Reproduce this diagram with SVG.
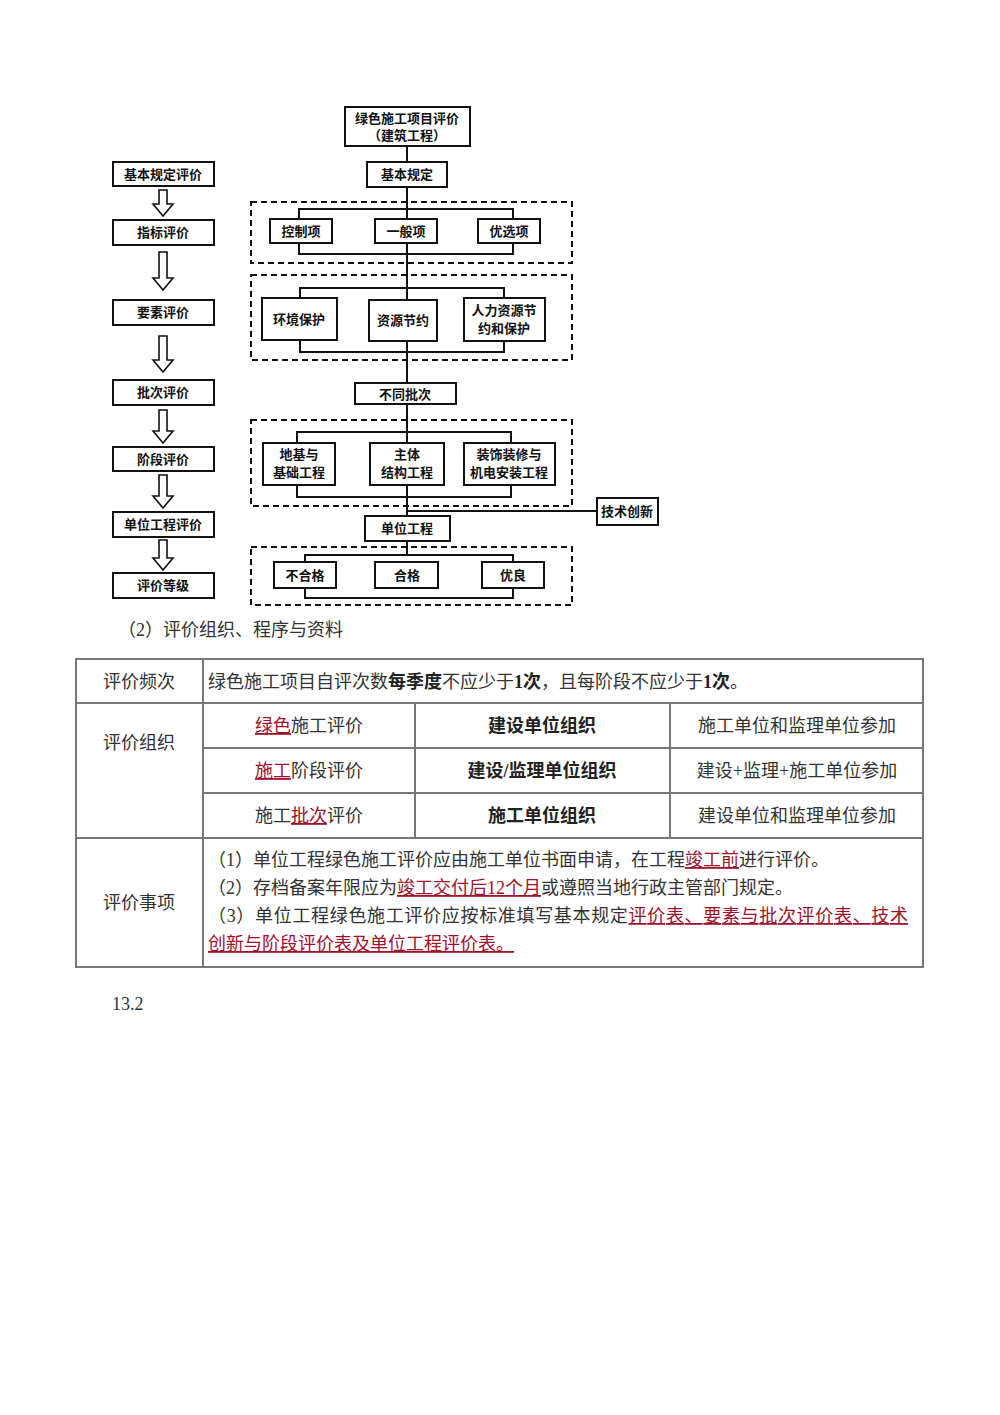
<svg xmlns="http://www.w3.org/2000/svg" width="1000" height="1415" viewBox="0 0 1000 1415">
<defs><style>
.b{fill:#fff;stroke:#111;stroke-width:2}
.d{fill:none;stroke:#111;stroke-width:2;stroke-dasharray:6,4}
.l{fill:none;stroke:#111;stroke-width:2}
.t{font-family:"Noto Sans CJK SC",sans-serif;font-weight:bold;font-size:13px;fill:#111;text-anchor:middle}
.a{fill:#fff;stroke:#111;stroke-width:1.6}
.g{stroke:#777;stroke-width:2;fill:none}
.s{font-family:"Liberation Serif","Noto Sans CJK SC",serif;font-size:18px;fill:#333}
.m{text-anchor:middle}
.bd{font-weight:bold;fill:#222}
.r{fill:#a0102a;text-decoration:underline}
</style></defs>
<rect width="1000" height="1415" fill="#fff"/>
<g id="connectors">
<path class="l" d="M407 146V555M299 219V209H513V219M299 243V254H513V243M300 298V288H504V298M300 340V352H504V341M297 443V432H511V443M297 485V497H511V485M305 562V555H513V562M305 588V598H513V588M407 511H597"/>
<path class="a" d="M159 190h8v14h6l-10 12-10-12h6z"/>
<path class="a" d="M159 252h8v26h6l-10 12-10-12h6z"/>
<path class="a" d="M159 336h8v24h6l-10 12-10-12h6z"/>
<path class="a" d="M159 410h8v21h6l-10 12-10-12h6z"/>
<path class="a" d="M159 475h8v21h6l-10 12-10-12h6z"/>
<path class="a" d="M159 540h8v18h6l-10 12-10-12h6z"/>
</g>
<g id="groups">
<rect class="d" x="251" y="202" width="321" height="61"/>
<rect class="d" x="251" y="275" width="321" height="85"/>
<rect class="d" x="251" y="420" width="321" height="86"/>
<rect class="d" x="251" y="547" width="321" height="58"/>
</g>
<g id="left">
<g id="n_l1"><rect class="b" x="113" y="162" width="101" height="24"/><text class="t" x="163" y="179">基本规定评价</text></g>
<g id="n_l2"><rect class="b" x="113" y="220" width="101" height="25"/><text class="t" x="163" y="237">指标评价</text></g>
<g id="n_l3"><rect class="b" x="113" y="300" width="101" height="25"/><text class="t" x="163" y="317">要素评价</text></g>
<g id="n_l4"><rect class="b" x="113" y="380" width="101" height="25"/><text class="t" x="163" y="397">批次评价</text></g>
<g id="n_l5"><rect class="b" x="113" y="447" width="101" height="24"/><text class="t" x="163" y="464">阶段评价</text></g>
<g id="n_l6"><rect class="b" x="113" y="512" width="101" height="25"/><text class="t" x="163" y="529">单位工程评价</text></g>
<g id="n_l7"><rect class="b" x="113" y="573" width="101" height="25"/><text class="t" x="163" y="590">评价等级</text></g>
</g>
<g id="right">
<g id="n_top"><rect class="b" x="345" y="107" width="125" height="39"/><text class="t" x="407" y="123">绿色施工项目评价</text><text class="t" x="407" y="140">（建筑工程）</text></g>
<g id="n_jb"><rect class="b" x="367" y="162" width="80" height="25"/><text class="t" x="407" y="179">基本规定</text></g>
<g id="n_kz"><rect class="b" x="270" y="219" width="62" height="24"/><text class="t" x="301" y="236">控制项</text></g>
<g id="n_yb"><rect class="b" x="375" y="219" width="62" height="24"/><text class="t" x="406" y="236">一般项</text></g>
<g id="n_yx"><rect class="b" x="478" y="219" width="62" height="24"/><text class="t" x="509" y="236">优选项</text></g>
<g id="n_hj"><rect class="b" x="262" y="298" width="75" height="42"/><text class="t" x="299" y="324">环境保护</text></g>
<g id="n_zy"><rect class="b" x="369" y="300" width="68" height="41"/><text class="t" x="403" y="325">资源节约</text></g>
<g id="n_rl"><rect class="b" x="464" y="298" width="81" height="43"/><text class="t" x="504" y="315">人力资源节</text><text class="t" x="504" y="333">约和保护</text></g>
<g id="n_bt"><rect class="b" x="355" y="383" width="101" height="21"/><text class="t" x="405" y="399">不同批次</text></g>
<g id="n_dj"><rect class="b" x="263" y="443" width="72" height="42"/><text class="t" x="299" y="459">地基与</text><text class="t" x="299" y="477">基础工程</text></g>
<g id="n_zt"><rect class="b" x="370" y="443" width="74" height="42"/><text class="t" x="407" y="459">主体</text><text class="t" x="407" y="477">结构工程</text></g>
<g id="n_zs"><rect class="b" x="464" y="443" width="91" height="42"/><text class="t" x="509" y="459">装饰装修与</text><text class="t" x="509" y="477">机电安装工程</text></g>
<g id="n_js"><rect class="b" x="597" y="498" width="61" height="27"/><text class="t" x="627" y="516">技术创新</text></g>
<g id="n_dw"><rect class="b" x="365" y="516" width="85" height="25"/><text class="t" x="407" y="533">单位工程</text></g>
<g id="n_bh"><rect class="b" x="274" y="562" width="62" height="26"/><text class="t" x="305" y="580">不合格</text></g>
<g id="n_hg"><rect class="b" x="375" y="562" width="63" height="26"/><text class="t" x="407" y="580">合格</text></g>
<g id="n_yl"><rect class="b" x="482" y="562" width="62" height="26"/><text class="t" x="513" y="580">优良</text></g>
</g>
<text class="s" x="118" y="636" font-size="16">（2）评价组织、程序与资料</text>
<g id="table">
<rect class="g" x="76" y="659" width="847" height="308"/>
<path class="g" d="M76 703H923M76 838H923M203 659V967M203 748H923M203 793H923M415 703V838M670 703V838"/>
<text class="s m" x="139" y="688">评价频次</text>
<text class="s" x="208" y="688">绿色施工项目自评次数<tspan class="bd">每季度</tspan>不应少于<tspan class="bd">1次</tspan>，且每阶段不应少于<tspan class="bd">1次</tspan>。</text>
<text class="s m" x="139" y="749">评价组织</text>
<text class="s m" x="309" y="732"><tspan class="r">绿色</tspan>施工评价</text>
<text class="s m bd" x="542" y="732">建设单位组织</text>
<text class="s m" x="797" y="732">施工单位和监理单位参加</text>
<text class="s m" x="309" y="777"><tspan class="r">施工</tspan>阶段评价</text>
<text class="s m bd" x="542" y="777">建设/监理单位组织</text>
<text class="s m" x="797" y="777">建设+监理+施工单位参加</text>
<text class="s m" x="309" y="822">施工<tspan class="r">批次</tspan>评价</text>
<text class="s m bd" x="542" y="822">施工单位组织</text>
<text class="s m" x="797" y="822">建设单位和监理单位参加</text>
<text class="s m" x="139" y="909">评价事项</text>
<text class="s" x="208" y="866">（1）单位工程绿色施工评价应由施工单位书面申请，在工程<tspan class="r">竣工前</tspan>进行评价。</text>
<text class="s" x="208" y="894">（2）存档备案年限应为<tspan class="r">竣工交付后12个月</tspan>或遵照当地行政主管部门规定。</text>
<text class="s" x="208" y="922" textLength="700">（3）单位工程绿色施工评价应按标准填写基本规定<tspan class="r">评价表、要素与批次评价表、技术</tspan></text>
<text class="s r" x="208" y="950">创新与阶段评价表及单位工程评价表。</text>
</g>
<text class="s" x="112" y="1010" font-size="19">13.2</text>
</svg>
